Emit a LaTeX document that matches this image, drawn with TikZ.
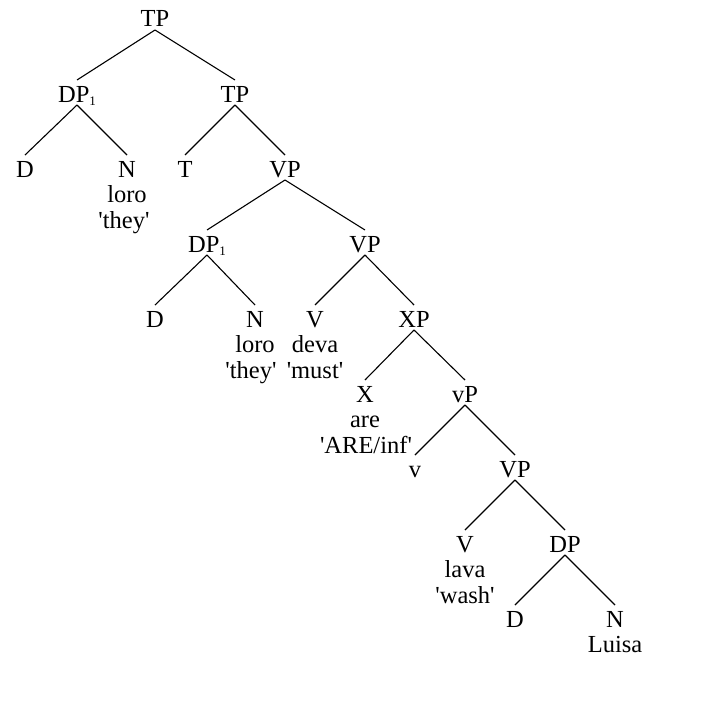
\documentclass[tikz,border=0pt]{standalone}
\usepackage{fontspec}
\setmainfont{Liberation Serif}
\newcommand\sq{\textquotesingle}
\newcommand\treebr[2]{\draw[edge] ([yshift=-3pt]#1.base) -- ([yshift=22pt]#2.base);}
\begin{document}
\begin{tikzpicture}[x=1pt,y=-1pt,
  lab/.style={font=\fontsize{24.5}{27}\selectfont, inner sep=0pt, anchor=base},
  sub/.style={font=\fontsize{13}{14}\selectfont},
  edge/.style={line width=1.1pt}]
\useasboundingbox (0,0) rectangle (709,720);
% level 0
\node[lab] (tp0) at (155,27) {TP};
% level 1
\node[lab] (dpa) at (77,102) {DP\raisebox{-3pt}{\fontsize{13}{14}\selectfont 1}};
\node[lab] (tp1) at (235,102) {TP};
% level 2
\node[lab] (da) at (25,177) {D};
\node[lab] (na) at (127,177) {N};
\node[lab] (na1) at (127,202.5) {loro};
\node[lab] (na2) at (124,228) {\sq they\sq};
\node[lab] (t) at (185,177) {T};
\node[lab] (vp1) at (285,177) {VP};
% level 3
\node[lab] (dpb) at (207,252) {DP\raisebox{-3pt}{\fontsize{13}{14}\selectfont 1}};
\node[lab] (vp2) at (365,252) {VP};
% level 4
\node[lab] (db) at (155,327) {D};
\node[lab] (nb) at (255,327) {N};
\node[lab] (nb1) at (255,352.5) {loro};
\node[lab] (nb2) at (251,378) {\sq they\sq};
\node[lab] (va) at (315,327) {V};
\node[lab] (va1) at (315,352.5) {deva};
\node[lab] (va2) at (315,378) {\sq must\sq};
\node[lab] (xp) at (414,327) {XP};
% level 5
\node[lab] (x) at (365,402) {X};
\node[lab] (x1) at (365,427.5) {are};
\node[lab] (x2) at (366,453) {\sq ARE/inf\sq};
\node[lab] (smallvp) at (465,402) {vP};
% level 6
\node[lab] (sv) at (415,477) {v};
\node[lab] (vp3) at (515,477) {VP};
% level 7
\node[lab] (vb) at (465,552) {V};
\node[lab] (vb1) at (465,577.5) {lava};
\node[lab] (vb2) at (465,603) {\sq wash\sq};
\node[lab] (dpc) at (565,552) {DP};
% level 8
\node[lab] (dc) at (515,627) {D};
\node[lab] (nc) at (615,627) {N};
\node[lab] (nc1) at (615,652.5) {Luisa};
% branches
\treebr{tp0}{dpa}
\treebr{tp0}{tp1}
\treebr{dpa}{da}
\treebr{dpa}{na}
\treebr{tp1}{t}
\treebr{tp1}{vp1}
\treebr{vp1}{dpb}
\treebr{vp1}{vp2}
\treebr{dpb}{db}
\treebr{dpb}{nb}
\treebr{vp2}{va}
\treebr{vp2}{xp}
\treebr{xp}{x}
\treebr{xp}{smallvp}
\treebr{smallvp}{sv}
\treebr{smallvp}{vp3}
\treebr{vp3}{vb}
\treebr{vp3}{dpc}
\treebr{dpc}{dc}
\treebr{dpc}{nc}
\end{tikzpicture}
\end{document}
